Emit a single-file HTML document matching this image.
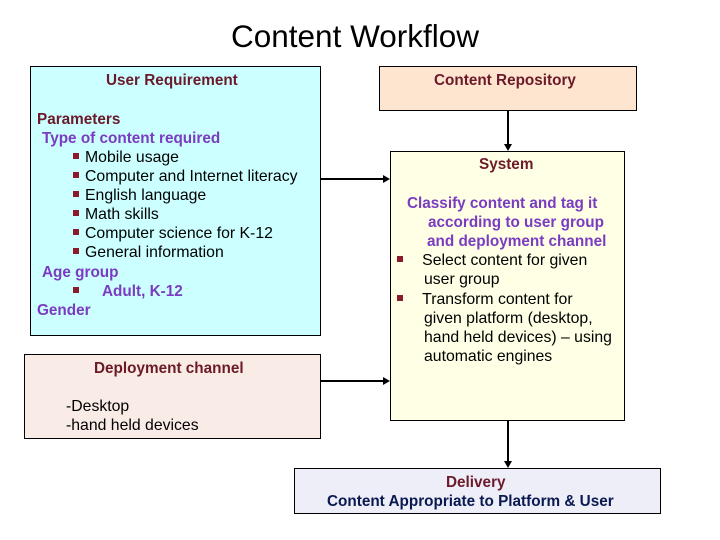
<!DOCTYPE html>
<html><head><meta charset="utf-8"><style>
body{margin:0;width:720px;height:540px;background:#fff;position:relative;overflow:hidden;font-family:"Liberation Sans",Arial,sans-serif;}
.b{position:absolute;border:1px solid #000;box-sizing:border-box;}
.t{position:absolute;white-space:nowrap;font-size:15.8px;line-height:19px;color:#000;}
.h{font-weight:bold;color:#6b1a2a;font-size:15.3px;}
.p{font-weight:bold;color:#7a3cc0;font-size:15.3px;}
.sq{display:inline-block;width:6px;height:6px;background:#8b1a2a;vertical-align:middle;margin-right:6px;position:relative;top:-2px;}
</style></head><body>
<div class="t" style="left:231px;top:17px;font-size:31.5px;line-height:38px;">Content Workflow</div>

<div class="b" style="left:30px;top:66px;width:291px;height:270px;background:#ccffff;"></div>
<div class="b" style="left:24px;top:354px;width:297px;height:85px;background:#f9ebe6;"></div>
<div class="b" style="left:379px;top:66px;width:258px;height:45px;background:#fde5cf;"></div>
<div class="b" style="left:390px;top:151px;width:235px;height:270px;background:#ffffe6;"></div>
<div class="b" style="left:294px;top:468px;width:367px;height:46px;background:#eeeef8;"></div>

<svg style="position:absolute;left:0;top:0" width="720" height="540">
<g stroke="#000" stroke-width="2" fill="none">
<line x1="321" y1="179" x2="384" y2="179"/>
<line x1="321" y1="381" x2="384" y2="381"/>
<line x1="508" y1="111" x2="508" y2="145"/>
<line x1="508" y1="421" x2="508" y2="462"/>
</g>
<g fill="#000">
<polygon points="390,179 383,175 383,183"/>
<polygon points="390,381 383,377 383,385"/>
<polygon points="508,151 504,144 512,144"/>
<polygon points="508,468 504,461 512,461"/>
</g>
</svg>

<div class="t h" style="left:106px;top:71px;">User Requirement</div>
<div class="t h" style="left:37px;top:110px;">Parameters</div>
<div class="t p" style="left:42px;top:129px;">Type of content required</div>
<div class="t" style="left:73px;top:148px;"><span class="sq"></span>Mobile usage</div>
<div class="t" style="left:73px;top:167px;"><span class="sq"></span>Computer and Internet literacy</div>
<div class="t" style="left:73px;top:186px;"><span class="sq"></span>English language</div>
<div class="t" style="left:73px;top:205px;"><span class="sq"></span>Math skills</div>
<div class="t" style="left:73px;top:224px;"><span class="sq"></span>Computer science for K-12</div>
<div class="t" style="left:73px;top:243px;"><span class="sq"></span>General information</div>
<div class="t p" style="left:42px;top:263px;">Age group</div>
<div class="t p" style="left:73px;top:282px;"><span class="sq"></span>&nbsp;&nbsp;&nbsp;&nbsp;Adult, K-12</div>
<div class="t p" style="left:37px;top:301px;">Gender</div>

<div class="t h" style="left:94px;top:359px;">Deployment channel</div>
<div class="t" style="left:66px;top:397px;">-Desktop</div>
<div class="t" style="left:66px;top:416px;">-hand held devices</div>

<div class="t h" style="left:434px;top:71px;">Content Repository</div>

<div class="t h" style="left:479px;top:155px;">System</div>
<div class="t p" style="left:407px;top:194px;">Classify content and tag it</div>
<div class="t p" style="left:428px;top:213px;">according to user group</div>
<div class="t p" style="left:427px;top:232px;">and deployment channel</div>
<div class="t" style="left:397px;top:251px;"><span class="sq"></span>&nbsp;&nbsp;&nbsp;Select content for given</div>
<div class="t" style="left:424px;top:270px;">user group</div>
<div class="t" style="left:397px;top:290px;"><span class="sq"></span>&nbsp;&nbsp;&nbsp;Transform content for</div>
<div class="t" style="left:424px;top:309px;">given platform (desktop,</div>
<div class="t" style="left:424px;top:328px;">hand held devices) – using</div>
<div class="t" style="left:424px;top:347px;">automatic engines</div>

<div class="t h" style="left:446px;top:473px;">Delivery</div>
<div class="t" style="left:327px;top:492px;font-weight:bold;font-size:15.3px;color:#0a1a50;">Content Appropriate to Platform &amp; User</div>
</body></html>
